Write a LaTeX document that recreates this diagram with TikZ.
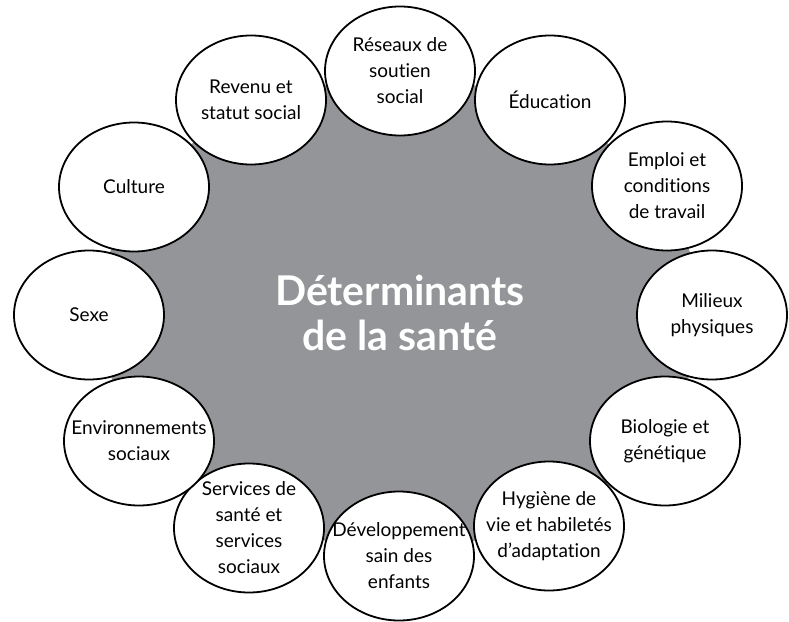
\documentclass[tikz,border=0pt]{standalone}
\usepackage{fontspec}
\setmainfont{Lato}[Ligatures=NoCommon]
\usetikzlibrary{shapes.geometric}
\definecolor{hubgrey}{RGB}{147,149,152}
\tikzset{
	hub/.style = {draw=none, fill=hubgrey, ellipse, minimum width=600pt, minimum height=470pt},
	%,
	factor/.style = {draw, fill=white, ellipse, line width=1.8pt, inner sep=0pt,
		minimum width=150pt, minimum height=129pt},
	factorlabel/.style = {align=center, inner sep=0pt, font=\fontsize{19}{26}\selectfont},
	hubtext/.style = {text=white, align=center, font=\bfseries\fontsize{41}{45}\selectfont}
}
\begin{document}
\begin{tikzpicture}[x=1pt, y=-1pt]
    \useasboundingbox (0,0) rectangle (789,621);
    % We start by placing the grey hub
    \node [hub] (hub) at (400,313) {};
    \node [hubtext] (determinants) at (400,313) {Déterminants\\de la santé};

    % Then the factors around it, clockwise from the top;
    % the text sits in a centred label so the ellipses keep one size
    \node [factor, label={[factorlabel]center:{Culture}}] (culture) at (134,187) {};
    \node [factor, label={[factorlabel]center:{Revenu et\\statut social}}] (revenu) at (251,100) {};
    \node [factor, label={[factorlabel]center:{Réseaux de\\soutien\\social}}] (reseaux) at (400,71) {};
    \node [factor, label={[factorlabel]center:{Éducation}}] (education) at (550,100) {};
    \node [factor, label={[factorlabel]center:{Emploi et\\conditions\\de travail}}] (emploi) at (667,186) {};
    \node [factor, label={[factorlabel]center:{Milieux\\physiques}}] (milieux) at (712,315) {};
    \node [factor, label={[factorlabel]center:{Biologie et\\génétique}}] (biologie) at (665,441) {};
    \node [factor, label={[factorlabel]center:{Hygiène de\\vie et habiletés\\d’adaptation}}] (hygiene) at (549,526) {};
    \node [factor, label={[factorlabel]center:{Développement\\sain des\\enfants}}] (developpement) at (399,556) {};
    \node [factor, label={[factorlabel]center:{Services de\\santé et\\services\\sociaux}}] (services) at (249,528) {};
    \node [factor, label={[factorlabel]center:{Environnements\\sociaux}}] (environnements) at (139,441) {};
    \node [factor, label={[factorlabel]center:{Sexe}}] (sexe) at (89,315) {};
\end{tikzpicture}
\end{document}
